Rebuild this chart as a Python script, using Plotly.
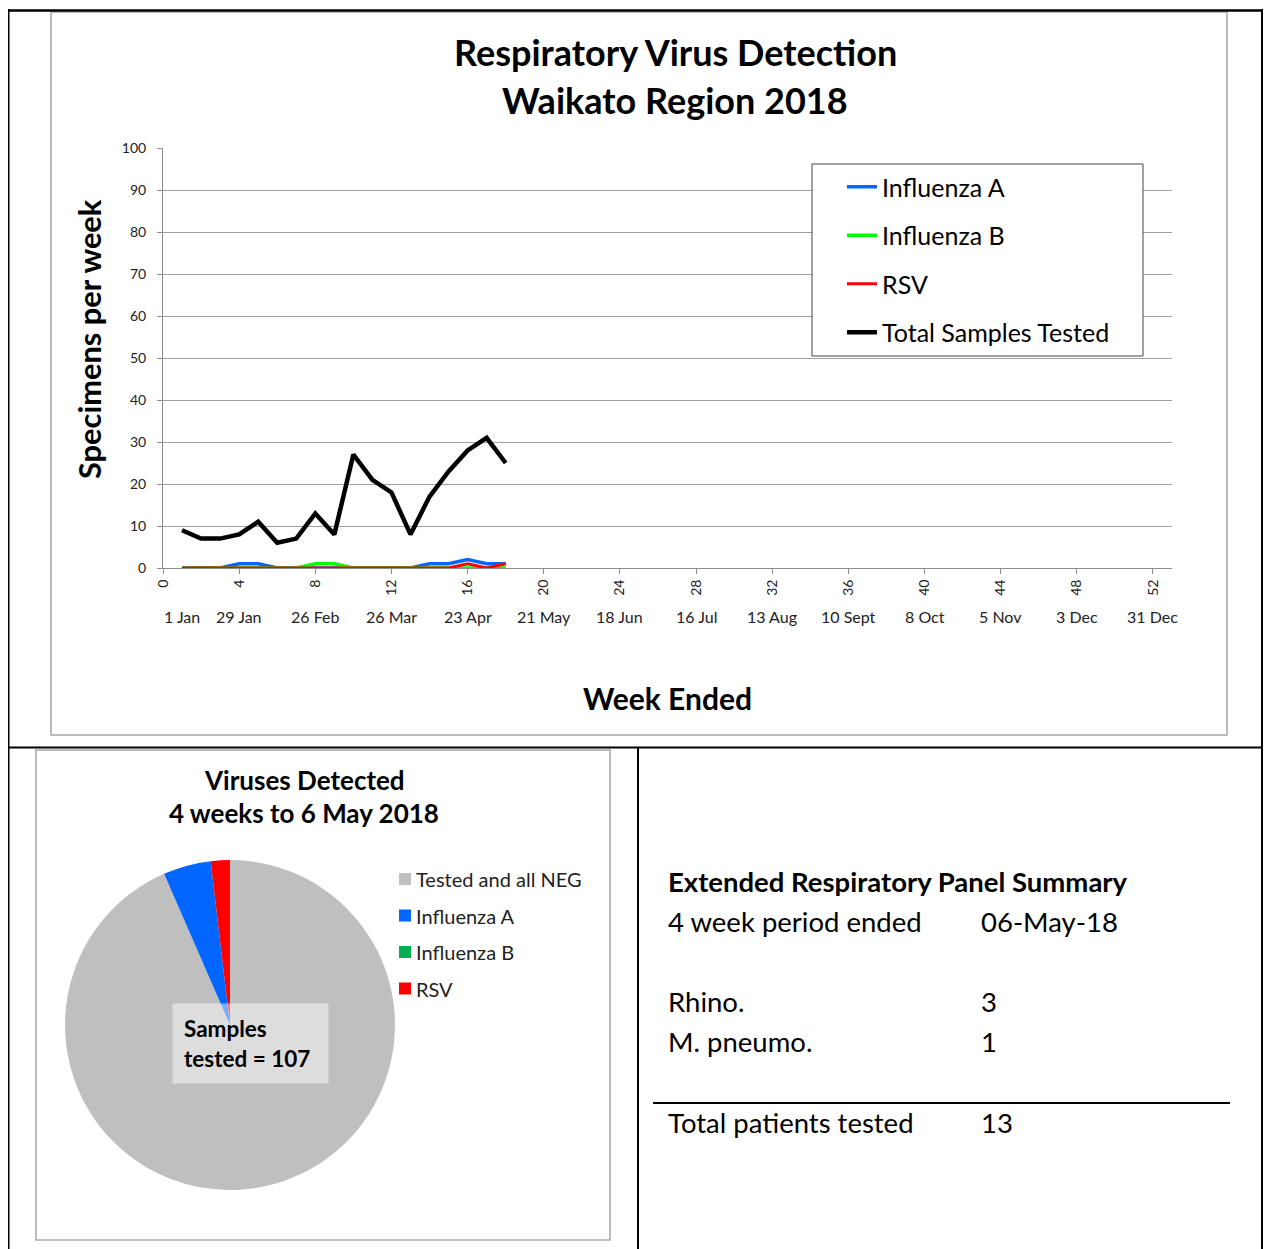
import plotly.graph_objects as go

# page body has an 8px margin, so the figure is offset by 8px
OFF = 8
W, H = 1271 - OFF, 1249 - OFF
FONT = "Lato"

# ---------------- data ----------------
weeks = list(range(1, 19))
total_tested = [9, 7, 7, 8, 11, 6, 7, 13, 8, 27, 21, 18, 8, 17, 23, 28, 31, 25]
influenza_a = [0, 0, 0, 1, 1, 0, 0, 0, 0, 0, 0, 0, 0, 1, 1, 2, 1, 1]
influenza_b = [0, 0, 0, 0, 0, 0, 0, 1, 1, 0, 0, 0, 0, 0, 0, 0, 0, 0]
rsv = [0, 0, 0, 0, 0, 0, 0, 0, 0, 0, 0, 0, 0, 0, 0, 1, 0, 1]

week_ticks = list(range(0, 53, 4))
date_labels = ["1 Jan", "29 Jan", "26 Feb", "26 Mar", "23 Apr", "21 May", "18 Jun",
               "16 Jul", "13 Aug", "10 Sept", "8 Oct", "5 Nov", "3 Dec", "31 Dec"]
date_label_weeks = [1, 4, 8, 12, 16, 20, 24, 28, 32, 36, 40, 44, 48, 52]

pie_labels = ["Tested and all NEG", "Influenza A", "Influenza B", "RSV"]
pie_values = [100, 5, 0, 2]
samples_tested = 107

panel_rows = [("4 week period ended", "06-May-18"), ("Rhino.", "3"), ("M. pneumo.", "1")]
total_patients = ("Total patients tested", "13")

line_colors = {"Influenza A": "#0066FF", "Influenza B": "#00FF00", "RSV": "#FF0000",
               "Total Samples Tested": "#000000"}
pie_colors = ["#BFBFBF", "#0066FF", "#00B050", "#FF0000"]


def px(x):
    return (x - OFF) / W


def py(y):
    return 1 - (y - OFF) / H


fig = go.Figure()

series = [("Influenza A", influenza_a, 3.5), ("Influenza B", influenza_b, 3.5),
          ("RSV", rsv, 3), ("Total Samples Tested", total_tested, 4.5)]
for name, vals, w in series:
    fig.add_trace(go.Scatter(x=weeks, y=vals, mode="lines", name=name,
                             line=dict(color=line_colors[name], width=w),
                             legendgroup=name, xaxis="x", yaxis="y"))

fig.add_trace(go.Pie(labels=pie_labels, values=pie_values, sort=False,
                     direction="clockwise", rotation=0,
                     marker=dict(colors=pie_colors, line=dict(width=0)),
                     textinfo="none", showlegend=False, hoverinfo="label+value",
                     domain=dict(x=[px(65), px(395)], y=[py(1190), py(860)])))

fig.update_layout(
    width=W, height=H, margin=dict(l=0, r=0, t=0, b=0, pad=0, autoexpand=False),
    paper_bgcolor="white", plot_bgcolor="white",
    font=dict(family=FONT, color="#000000"),
    xaxis=dict(domain=[px(163), px(1172)], range=[0, 53], tickmode="array",
               tickvals=week_ticks, tickangle=-90, showgrid=False,
               showline=True, linecolor="#8C8C8C", linewidth=1,
               ticks="outside", ticklen=5, tickcolor="#8C8C8C",
               tickfont=dict(size=14, color="#222"), anchor="y", zeroline=False,
               automargin=False),
    yaxis=dict(domain=[py(568), py(148)], range=[0, 100], dtick=10,
               showgrid=True, gridcolor="#A0A0A0", gridwidth=1,
               showline=True, linecolor="#8C8C8C", linewidth=1,
               ticks="outside", ticklen=5, tickcolor="#8C8C8C", ticklabelstandoff=8,
               tickfont=dict(size=14, color="#222"), anchor="x", zeroline=False,
               automargin=False),
    legend=dict(x=px(842), y=py(164), xanchor="left", yanchor="top",
                bgcolor="rgba(0,0,0,0)", borderwidth=0,
                font=dict(size=25, family=FONT), tracegroupgap=13,
                itemwidth=30),
    showlegend=True,
)

P = dict(xref="paper", yref="paper")
shapes = []
# outer table borders
shapes += [
    dict(type="line", x0=px(7), x1=px(1263), y0=py(10.5), y1=py(10.5), line=dict(color="black", width=2.5), **P),
    dict(type="line", x0=px(8.5), x1=px(8.5), y0=py(9), y1=py(1249), line=dict(color="black", width=2), **P),
    dict(type="line", x0=px(1262), x1=px(1262), y0=py(9), y1=py(1249), line=dict(color="black", width=2), **P),
    dict(type="line", x0=px(7), x1=px(1263), y0=py(747.5), y1=py(747.5), line=dict(color="black", width=2), **P),
    dict(type="line", x0=px(638), x1=px(638), y0=py(747), y1=py(1249), line=dict(color="black", width=2), **P),
]
# chart frames
shapes += [
    dict(type="rect", x0=px(51), x1=px(1227), y0=py(12), y1=py(735), line=dict(color="#A6A6A6", width=1.5), layer="below", **P),
    dict(type="rect", x0=px(36), x1=px(610), y0=py(750), y1=py(1240), line=dict(color="#A6A6A6", width=1.5), layer="below", **P),
]
# legend box (white fill over gridlines)
shapes.append(dict(type="rect", x0=px(812), x1=px(1143), y0=py(164), y1=py(356),
                   fillcolor="white", line=dict(color="#444", width=1), layer="above", **P))
# summary separator line
shapes.append(dict(type="line", x0=px(653), x1=px(1230), y0=py(1103), y1=py(1103),
                   line=dict(color="black", width=2), **P))
# pie legend squares
for i, col in enumerate(pie_colors):
    yy = 879 + i * 36.5
    shapes.append(dict(type="rect", x0=px(399), x1=px(411), y0=py(yy - 6), y1=py(yy + 6),
                       fillcolor=col, line=dict(width=0), **P))
fig.update_layout(shapes=shapes)

ann = []
# titles
ann.append(dict(x=px(675), y=py(52), text="<b>Respiratory Virus Detection</b>", showarrow=False,
                xanchor="center", yanchor="middle", font=dict(size=36), **P))
ann.append(dict(x=px(675), y=py(100), text="<b>Waikato Region 2018</b>", showarrow=False,
                xanchor="center", yanchor="middle", font=dict(size=36), **P))
ann.append(dict(x=px(90), y=py(339), text="<b>Specimens per week</b>", showarrow=False, textangle=-90,
                xanchor="center", yanchor="middle", font=dict(size=30.8), **P))
ann.append(dict(x=px(667), y=py(698), text="<b>Week Ended</b>", showarrow=False,
                xanchor="center", yanchor="middle", font=dict(size=30), **P))
# date labels
for wk, lab in zip(date_label_weeks, date_labels):
    ann.append(dict(x=wk, y=py(616), xref="x", yref="paper", text=lab, showarrow=False,
                    xanchor="center", yanchor="middle", font=dict(size=16, color="#222")))
# pie title
ann.append(dict(x=px(304), y=py(780), text="<b>Viruses Detected</b>", showarrow=False,
                xanchor="center", yanchor="middle", font=dict(size=26), **P))
ann.append(dict(x=px(304), y=py(813), text="<b>4 weeks to 6 May 2018</b>", showarrow=False,
                xanchor="center", yanchor="middle", font=dict(size=26), **P))
# pie legend labels
for i, lab in enumerate(pie_labels):
    yy = 879 + i * 36.5
    ann.append(dict(x=px(414), y=py(yy), text=lab, showarrow=False,
                    xanchor="left", yanchor="middle", font=dict(size=20, color="#222"), **P))
# samples box
ann.append(dict(x=px(172), y=py(1003), xanchor="left", yanchor="top",
                text=f"<b>Samples<br>tested = {samples_tested}</b>", showarrow=False, align="left",
                width=133, height=57, borderpad=11, bgcolor="rgba(255,255,255,0.47)",
                font=dict(size=22.5), valign="middle", **P))
# summary panel
ann.append(dict(x=px(666), y=py(881), text="<b>Extended Respiratory Panel Summary</b>", showarrow=False,
                xanchor="left", yanchor="middle", font=dict(size=27.5), **P))
row_y = [921, 1001, 1041]
for (lab, val), yy in zip(panel_rows, row_y):
    ann.append(dict(x=px(666), y=py(yy), text=lab, showarrow=False,
                    xanchor="left", yanchor="middle", font=dict(size=27.5), **P))
    ann.append(dict(x=px(979), y=py(yy), text=val, showarrow=False,
                    xanchor="left", yanchor="middle", font=dict(size=27.5), **P))
ann.append(dict(x=px(666), y=py(1122), text=total_patients[0], showarrow=False,
                xanchor="left", yanchor="middle", font=dict(size=27.5), **P))
ann.append(dict(x=px(979), y=py(1122), text=total_patients[1], showarrow=False,
                xanchor="left", yanchor="middle", font=dict(size=27.5), **P))

fig.update_layout(annotations=ann)
fig.write_html("out.html")
